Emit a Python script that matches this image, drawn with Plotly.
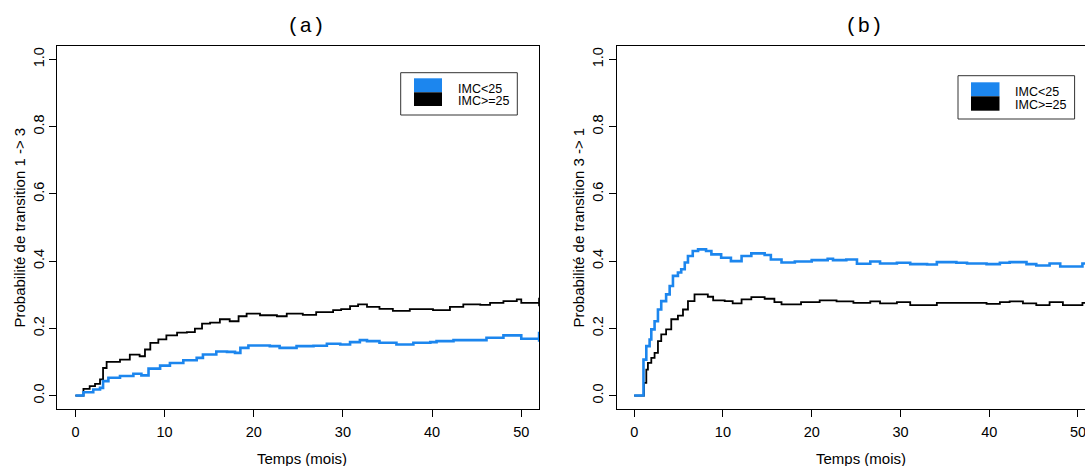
import plotly.graph_objects as go

W, H = 1085, 466

# ---------------- data ----------------
# Panel (a): transition 1 -> 3
ta_hi = [0, 0.9, 1.6, 2.2, 2.76, 3.1, 3.5, 5.0, 6.1, 7.2, 7.8, 8.4, 9.3, 10.2, 11.4,
         12.5, 13.4, 14.2, 15.1, 16.2, 17.3, 18.3, 19.2, 20.7, 22.6, 23.7, 25.5, 27.0,
         28.9, 29.8, 30.8, 31.7, 32.7, 34.1, 35.6, 37.5, 39.4, 40.1, 42.0, 43.5, 45.4,
         46.5, 48.0, 49.5, 50.0, 52.0, 52.0, 52.0]
pa_hi = [0, 0.02, 0.028, 0.035, 0.048, 0.082, 0.10, 0.107, 0.122, 0.117, 0.137, 0.157,
         0.167, 0.179, 0.187, 0.189, 0.199, 0.214, 0.217, 0.227, 0.221, 0.236, 0.244,
         0.239, 0.236, 0.244, 0.24, 0.248, 0.254, 0.257, 0.266, 0.271, 0.264, 0.258,
         0.252, 0.257, 0.257, 0.254, 0.264, 0.271, 0.27, 0.276, 0.281, 0.286, 0.276,
         0.274, 0.291, 0.266]
ta_lo = [0, 0.9, 2.0, 2.76, 3.1, 3.7, 5.0, 6.5, 7.4, 8.2, 9.5, 10.6, 12.1, 13.6, 14.3,
         15.8, 17.0, 17.9, 18.5, 19.4, 21.8, 22.9, 24.8, 26.7, 28.2, 29.7, 30.8, 31.9,
         32.7, 34.1, 36.0, 37.9, 39.8, 40.5, 42.4, 46.1, 48.0, 50.0, 52.0, 52.0, 52.0]
pa_lo = [0, 0.01, 0.018, 0.023, 0.043, 0.053, 0.058, 0.065, 0.06, 0.08, 0.089, 0.097,
         0.105, 0.112, 0.122, 0.131, 0.13, 0.127, 0.142, 0.149, 0.147, 0.142, 0.147,
         0.148, 0.154, 0.152, 0.159, 0.165, 0.162, 0.157, 0.152, 0.157, 0.159, 0.162,
         0.165, 0.172, 0.179, 0.169, 0.168, 0.19, 0.16]

# Panel (b): transition 3 -> 1
tb_lo = [0, 1.05, 1.37, 1.74, 1.93, 2.3, 2.68, 3.05, 3.6, 4.0, 4.37, 4.93, 5.3, 5.7, 6.06,
         6.6, 7.2, 8.1, 8.7, 9.8, 10.9, 12.1, 13.2, 14.7, 15.4, 16.6, 18.1, 20.0, 21.8,
         22.4, 23.9, 25.1, 26.6, 27.7, 29.6, 31.1, 33.0, 34.1, 36.3, 37.5, 39.7, 41.2,
         42.3, 44.2, 45.3, 46.8, 48.0, 50.5, 52.0]
pb_lo = [0, 0.107, 0.147, 0.167, 0.197, 0.221, 0.256, 0.281, 0.301, 0.326, 0.356, 0.366,
         0.376, 0.396, 0.415, 0.43, 0.435, 0.43, 0.42, 0.41, 0.40, 0.415, 0.423, 0.418,
         0.405, 0.396, 0.399, 0.403, 0.407, 0.403, 0.405, 0.392, 0.399, 0.393, 0.395,
         0.391, 0.39, 0.397, 0.395, 0.393, 0.391, 0.395, 0.397, 0.391, 0.387, 0.393,
         0.384, 0.393, 0.393]
tb_hi = [0, 1.1, 1.37, 1.55, 1.93, 2.3, 2.68, 3.05, 3.6, 4.18, 4.93, 5.5, 6.06, 6.8, 7.75,
         8.3, 8.9, 10.2, 11.1, 12.1, 13.2, 14.7, 15.8, 16.6, 18.8, 20.9, 22.8, 24.7,
         26.6, 27.7, 29.6, 31.1, 33.0, 34.1, 36.7, 39.7, 41.2, 42.3, 43.8, 45.3, 46.8,
         48.3, 50.5, 52.0]
pb_hi = [0, 0.038, 0.077, 0.097, 0.112, 0.127, 0.162, 0.182, 0.197, 0.227, 0.238, 0.256,
         0.281, 0.301, 0.301, 0.294, 0.283, 0.281, 0.274, 0.286, 0.293, 0.288, 0.278,
         0.271, 0.278, 0.283, 0.28, 0.276, 0.28, 0.274, 0.278, 0.269, 0.269, 0.276,
         0.276, 0.273, 0.278, 0.28, 0.274, 0.269, 0.278, 0.269, 0.276, 0.276]

series_names = ["IMC<25", "IMC>=25"]
x_ticks = [0, 10, 20, 30, 40, 50]
y_ticks = [0.0, 0.2, 0.4, 0.6, 0.8, 1.0]
panel_titles = ["(a)", "(b)"]
y_titles = ["Probabilité de transition 1 -> 3", "Probabilité de transition 3 -> 1"]
x_title = "Temps (mois)"

BLUE = "#1C86EE"
BLACK = "#000000"
SANS = "Liberation Sans, Arial, sans-serif"
MONO = "Liberation Mono, Courier New, monospace"


def px(x):
    return x / W


def py(y):
    return 1 - y / H


fig = go.Figure()

# panel a
fig.add_trace(go.Scatter(x=ta_hi, y=pa_hi, mode="lines", line=dict(color=BLACK, width=1.8, shape="hv"),
                         name=series_names[1], xaxis="x", yaxis="y", showlegend=False))
fig.add_trace(go.Scatter(x=ta_lo, y=pa_lo, mode="lines", line=dict(color=BLUE, width=2.6, shape="hv"),
                         name=series_names[0], xaxis="x", yaxis="y", showlegend=False))
# panel b
fig.add_trace(go.Scatter(x=tb_hi, y=pb_hi, mode="lines", line=dict(color=BLACK, width=1.8, shape="hv"),
                         name=series_names[1], xaxis="x2", yaxis="y2", showlegend=False))
fig.add_trace(go.Scatter(x=tb_lo, y=pb_lo, mode="lines", line=dict(color=BLUE, width=2.6, shape="hv"),
                         name=series_names[0], xaxis="x2", yaxis="y2", showlegend=False))

ydom = [py(409), py(46)]
axis_common = dict(showline=True, linecolor="black", linewidth=1, ticks="outside", ticklen=7,
                   tickwidth=1, tickcolor="black", showgrid=False, zeroline=False,
                   ticklabeloverflow="allow",
                   tickfont=dict(family=SANS, size=14.5, color="black"))

fig.update_layout(
    width=W, height=H,
    margin=dict(l=0, r=0, t=0, b=0),
    paper_bgcolor="white", plot_bgcolor="white",
    showlegend=False,
    xaxis=dict(domain=[px(57.4), px(539.1)], range=[-2.02, 52.0], tickvals=x_ticks,
               mirror=True, anchor="y", ticklabelstandoff=3, **axis_common),
    yaxis=dict(domain=ydom, range=[-0.04, 1.04], tickvals=y_ticks, tickformat=".1f",
               tickangle=-90, mirror=True, anchor="x", **axis_common),
    xaxis2=dict(domain=[px(616.5), 1.0], range=[-1.99, 50.79], tickvals=x_ticks,
                mirror=True, anchor="y2", ticklabelstandoff=3, **axis_common),
    yaxis2=dict(domain=ydom, range=[-0.04, 1.04], tickvals=y_ticks, tickformat=".1f",
                tickangle=-90, mirror=False, anchor="x2", **axis_common),
)

annotations = []
shapes = []

# titles
for cx, t in zip([306, 864], panel_titles):
    annotations.append(dict(x=px(cx), y=py(26), xref="paper", yref="paper", text=t,
                            showarrow=False, xanchor="center", yanchor="middle",
                            font=dict(family=MONO, size=21, color="black")))
# x titles
for cx in [302, 861]:
    annotations.append(dict(x=px(cx), y=py(458.5), xref="paper", yref="paper", text=x_title,
                            showarrow=False, xanchor="center", yanchor="middle",
                            font=dict(family=SANS, size=15, color="black")))
# y titles
for cx, t in zip([18.5, 577.5], y_titles):
    annotations.append(dict(x=px(cx), y=py(228), xref="paper", yref="paper", text=t,
                            showarrow=False, xanchor="center", yanchor="middle", textangle=-90,
                            font=dict(family=SANS, size=15, color="black")))

# legends
legends = [
    dict(box=(400.7, 72.7, 517.3, 115.0), sw=(414, 442), blue=(78.3, 92.3), black=(92.3, 106.0),
         tx=456, ty=(89, 101)),
    dict(box=(958, 75.7, 1074.6, 119.0), sw=(971, 999.5), blue=(82.3, 96.3), black=(96.3, 110.7),
         tx=1012.7, ty=(91.5, 104.5)),
]
for lg in legends:
    x0, y0, x1, y1 = lg["box"]
    shapes.append(dict(type="rect", xref="paper", yref="paper", x0=px(x0), x1=px(x1), y0=py(y1), y1=py(y0),
                       line=dict(color="#333333", width=1), fillcolor="white", layer="above"))
    for col, (a, b) in [(BLUE, lg["blue"]), (BLACK, lg["black"])]:
        shapes.append(dict(type="rect", xref="paper", yref="paper", x0=px(lg["sw"][0]), x1=px(lg["sw"][1]),
                           y0=py(b), y1=py(a), line=dict(width=0), fillcolor=col, layer="above"))
    for name, yy in zip(series_names, lg["ty"]):
        annotations.append(dict(x=px(lg["tx"]), y=py(yy), xref="paper", yref="paper", text=name,
                                showarrow=False, xanchor="left", yanchor="middle",
                                font=dict(family=SANS, size=12.5, color="black")))

fig.update_layout(annotations=annotations, shapes=shapes)
fig.write_html("out.html", config={"displayModeBar": False},
               post_script="document.body.style.margin='0px';document.body.style.padding='0px';")
